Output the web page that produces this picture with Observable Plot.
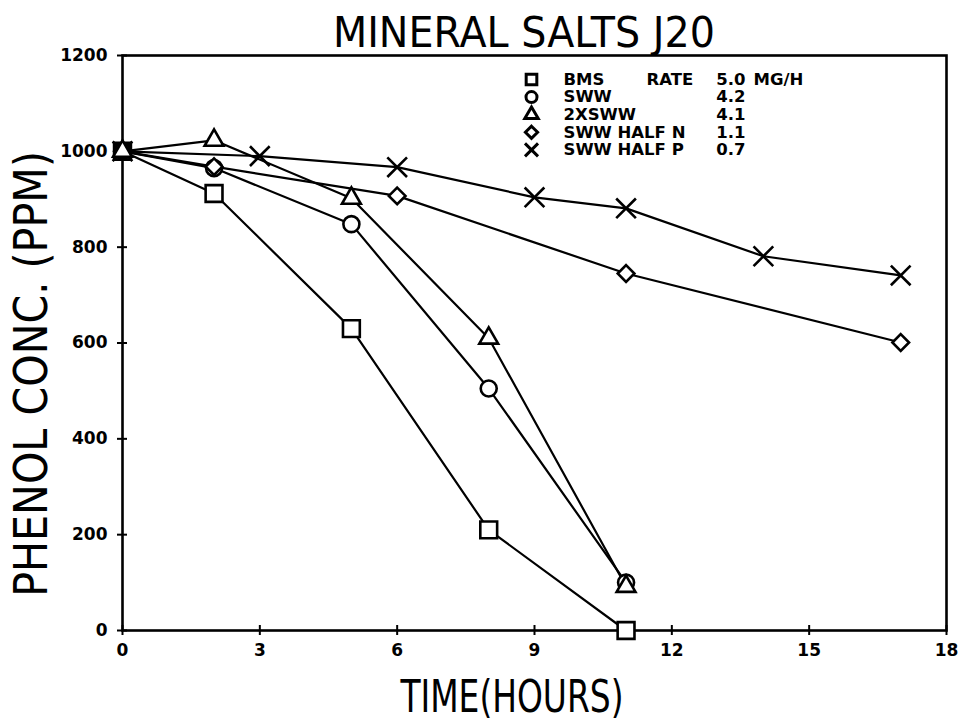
<!DOCTYPE html>
<html>
<head>
<meta charset="utf-8">
<script src="https://cdn.jsdelivr.net/npm/d3@7"></script>
<script src="https://cdn.jsdelivr.net/npm/@observablehq/plot@0.6"></script>
<style>
  body { margin: 0; background: #fff; }
  svg { display: block; }
</style>
</head>
<body>
<div id="chart"></div>
<script>
// ---- data ----
const seriesNames = ["BMS", "SWW", "2XSWW", "SWW HALF N", "SWW HALF P"];
const seriesRates = ["5.0", "4.2", "4.1", "1.1", "0.7"];
const seriesSymbols = ["square", "circle", "triangle", "diamond2", "times"];

const bmsTime   = [0, 2, 5, 8, 11];
const bmsConc   = [1000, 912, 630, 210, 0];
const swwTime   = [0, 2, 5, 8, 11];
const swwConc   = [1000, 965, 848, 505, 100];
const sww2Time  = [0, 2, 5, 8, 11];
const sww2Conc  = [1000, 1023, 902, 610, 92];
const halfNTime = [0, 2, 6, 11, 17];
const halfNConc = [1000, 968, 907, 745, 601];
const halfPTime = [0, 3, 6, 9, 11, 14, 17];
const halfPConc = [1000, 990, 967, 904, 881, 781, 741];

const xTicks = [0, 3, 6, 9, 12, 15, 18];
const yTicks = [0, 200, 400, 600, 800, 1000, 1200];

const titleText = "MINERAL SALTS J20";
const xLabel = "TIME(HOURS)";
const yLabel = "PHENOL CONC. (PPM)";

// ---- build table ----
const times = [bmsTime, swwTime, sww2Time, halfNTime, halfPTime];
const concs = [bmsConc, swwConc, sww2Conc, halfNConc, halfPConc];
const rows = [];
seriesNames.forEach((name, i) => {
  times[i].forEach((t, j) => rows.push({series: name, symbol: seriesSymbols[i], time: t, conc: concs[i][j]}));
});

// symbol sizes (style only)
const symbolRadius = {square: 9.5, circle: 8, triangle: 7, diamond2: 7.5, times: 9};
const legendRadius = {square: 6, circle: 5.5, triangle: 5, diamond2: 5.5, times: 6};

const labelFont = "DejaVu Sans, sans-serif";
const boldFont = "DejaVu Sans, sans-serif";

// legend marks (one per row)
const legendMarks = seriesNames.flatMap((name, i) => {
  const dy = 24 + i * 17.6;
  const marks = [
    Plot.dot([name], {frameAnchor: "top-left", dx: 409, dy, symbol: () => seriesSymbols[i], r: legendRadius[seriesSymbols[i]], stroke: "black", strokeWidth: 3, fill: "white"}),
    Plot.text([name], {frameAnchor: "top-left", dx: 441, dy, text: d => d, textAnchor: "start", lineAnchor: "middle", fontSize: 16.5, fontWeight: "bold", fontFamily: boldFont, fill: "black"}),
    Plot.text([seriesRates[i]], {frameAnchor: "top-left", dx: 623, dy, text: d => d, textAnchor: "end", lineAnchor: "middle", fontSize: 16.5, fontWeight: "bold", fontFamily: boldFont, fill: "black"})
  ];
  if (i === 0) {
    marks.push(Plot.text(["RATE"], {frameAnchor: "top-left", dx: 524, dy, text: d => d, textAnchor: "start", lineAnchor: "middle", fontSize: 16.5, fontWeight: "bold", fontFamily: boldFont, fill: "black"}));
    marks.push(Plot.text(["MG/H"], {frameAnchor: "top-left", dx: 631, dy, text: d => d, textAnchor: "start", lineAnchor: "middle", fontSize: 16.5, fontWeight: "bold", fontFamily: boldFont, fill: "black"}));
  }
  return marks;
});

const chart = Plot.plot({
  width: 960,
  height: 721,
  marginLeft: 122,
  marginRight: 14,
  marginTop: 55,
  marginBottom: 91,
  style: {background: "white", color: "black"},
  x: {domain: [0, 18]},
  y: {domain: [0, 1200]},
  r: {type: "identity"},
  symbol: {domain: seriesSymbols, range: seriesSymbols},
  marks: [
    Plot.frame({stroke: "black", strokeWidth: 2.6}),
    Plot.axisX({ticks: xTicks, tickSize: 5, tickPadding: 8, tickFormat: d => String(d), label: null,
      fontSize: 17, fontWeight: "bold", fontFamily: boldFont, strokeWidth: 2}),
    Plot.axisX({ticks: xTicks, tickSize: -5, text: null, label: null, strokeWidth: 2}),
    Plot.axisY({ticks: yTicks, tickSize: 5, tickPadding: 10, tickFormat: d => String(d), label: null,
      fontSize: 17, fontWeight: "bold", fontFamily: boldFont, strokeWidth: 2}),
    Plot.axisY({ticks: yTicks, tickSize: -5, text: null, label: null, strokeWidth: 2}),
    Plot.line(rows, {x: "time", y: "conc", z: "series", stroke: "black", strokeWidth: 2.2}),
    Plot.dot(rows, {x: "time", y: "conc", symbol: "symbol", r: d => symbolRadius[d.symbol], stroke: "black", strokeWidth: 2.6, fill: "white"}),
    Plot.text([titleText], {frameAnchor: "top", dx: -10, dy: -9, lineAnchor: "bottom", textAnchor: "middle", text: d => d,
      fontSize: 42, fontFamily: labelFont, fill: "black"}),
    Plot.text([xLabel], {frameAnchor: "bottom", dx: -18, dy: 67, lineAnchor: "middle", textAnchor: "middle", text: d => d,
      fontSize: 44, fontFamily: labelFont, fill: "black"}),
    Plot.text([yLabel], {frameAnchor: "left", dx: -90, dy: 28, rotate: -90, lineAnchor: "middle", textAnchor: "middle", text: d => d,
      fontSize: 46, fontFamily: labelFont, fill: "black"}),
    ...legendMarks
  ]
});

document.getElementById("chart").appendChild(chart);

// condense the plotter-style labels to the reference's narrow widths (scale about each text's centre)
const narrow = {[titleText]: [382, false], [xLabel]: [224, false], [yLabel]: [446, true]};
const svgBox = chart.getBoundingClientRect();
d3.select(chart).selectAll("text").each(function () {
  const t = narrow[this.textContent];
  if (!t) return;
  const r = this.getBoundingClientRect();
  const cx = r.x - svgBox.x + r.width / 2;
  const cy = r.y - svgBox.y + r.height / 2;
  const s = t[0] / (t[1] ? r.height : r.width);
  const sc = t[1] ? `scale(1,${s})` : `scale(${s},1)`;
  const prev = this.getAttribute("transform") || "";
  this.setAttribute("transform", `translate(${cx},${cy}) ${sc} translate(${-cx},${-cy}) ${prev}`);
});
</script>
</body>
</html>
